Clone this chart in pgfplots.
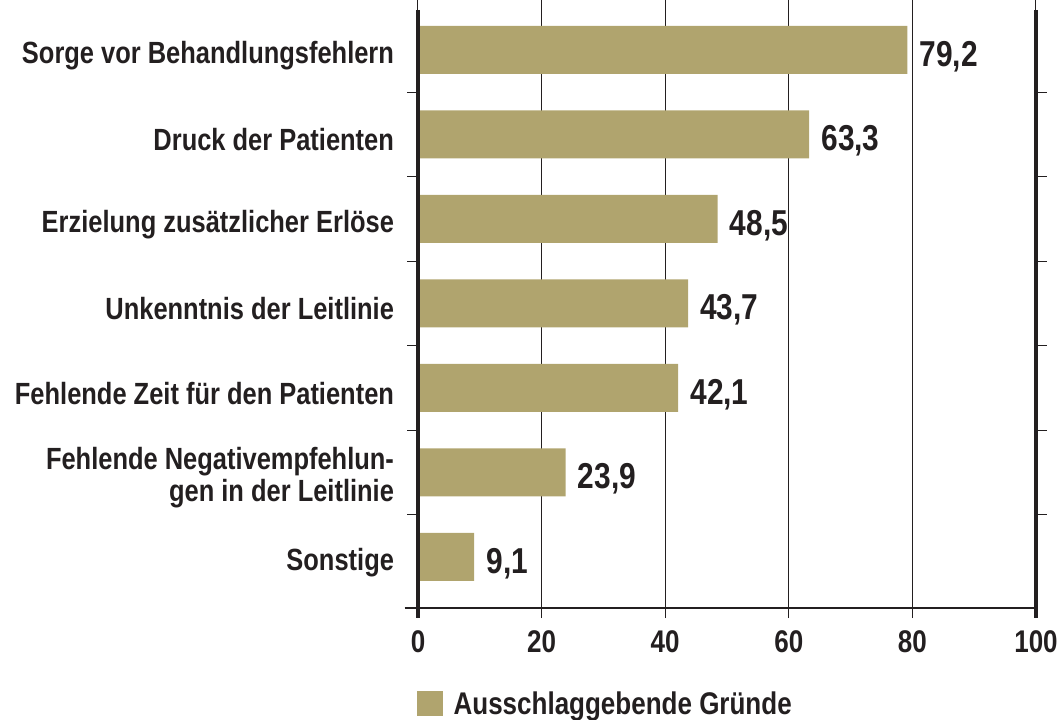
\documentclass[border=0pt]{standalone}
\usepackage{pgfplots}
\pgfplotsset{compat=1.18}
\usepackage{fontspec}
\setmainfont{Liberation Sans}[FakeStretch=0.83]
\definecolor{barcol}{RGB}{176,164,110}
\definecolor{txt}{RGB}{35,31,32}
\begin{document}
\begin{tikzpicture}
\useasboundingbox (-313.5pt,-84pt) rectangle (482.25pt,456pt);
\begin{axis}[
  at={(0,0)}, anchor=south west,
  scale only axis,
  width=463.5pt, height=448.5pt,
  xmin=0, xmax=100,
  ymin=-0.473, ymax=6.604,
  y dir=reverse,
  axis line style={draw=none},
  xmajorgrids,
  major grid style={line width=0.75pt, color=txt},
  xtick={0,20,...,100},
  tick align=outside,
  major tick length=7.5pt,
  minor tick length=8pt,
  xtick style={line width=0.75pt, color=txt},
  ytick={0,...,6},
  minor ytick={0.5,1.5,...,5.5},
  every major y tick/.style={draw=none},
  every minor y tick/.style={line width=0.75pt, color=txt},
  yticklabels={Sorge vor Behandlungsfehlern,Druck der Patienten,Erzielung zusätzlicher Erlöse,Unkenntnis der Leitlinie,Fehlende Zeit für den Patienten,{Fehlende Negativempfehlun-\\gen in der Leitlinie},Sonstige},
  yticklabel style={font=\fontsize{23}{24}\selectfont\bfseries, text=txt, align=right, xshift=-7pt, yshift=-4pt},
  xticklabel style={font=\fontsize{23.5}{24}\selectfont\bfseries, text=txt, yshift=-6pt},
  /pgf/number format/assume math mode=true,
  xbar, bar width=36pt,
  point meta=explicit symbolic,
  nodes near coords,
  nodes near coords style={font=\fontsize{27}{27}\selectfont\bfseries, text=txt, anchor=west, inner sep=0pt, xshift=9pt, yshift=-5pt},
  clip=false,
  legend style={at={(0,0)}, anchor=north west, xshift=-1pt, yshift=-61pt, draw=none, fill=none, inner sep=0pt,
     column sep=6pt,
     font=\fontsize{23.5}{24}\selectfont\bfseries, text=txt,
     legend cell align=left},
  legend image code/.code={\fill[barcol] (0pt,-8.5pt) rectangle (19.5pt,10.5pt);},
]
\addplot[fill=barcol, draw=none] coordinates {
  (79.2,0) [79,2]
  (63.3,1) [63,3]
  (48.5,2) [48,5]
  (43.7,3) [43,7]
  (42.1,4) [42,1]
  (23.9,5) [23,9]
  (9.1,6)  [9,1]
};
\addlegendentry{Ausschlaggebende Gründe}
\draw[line width=2.6pt, color=txt] (axis cs:0,-0.473) -- ([yshift=-7.5pt]axis cs:0,6.604);
\draw[line width=2.6pt, color=txt] (axis cs:100,-0.473) -- ([yshift=-7.5pt]axis cs:100,6.604);
\draw[line width=1.6pt, color=txt] ([xshift=-10pt]axis cs:0,6.604) -- (axis cs:100,6.604);
\end{axis}
\end{tikzpicture}
\end{document}
